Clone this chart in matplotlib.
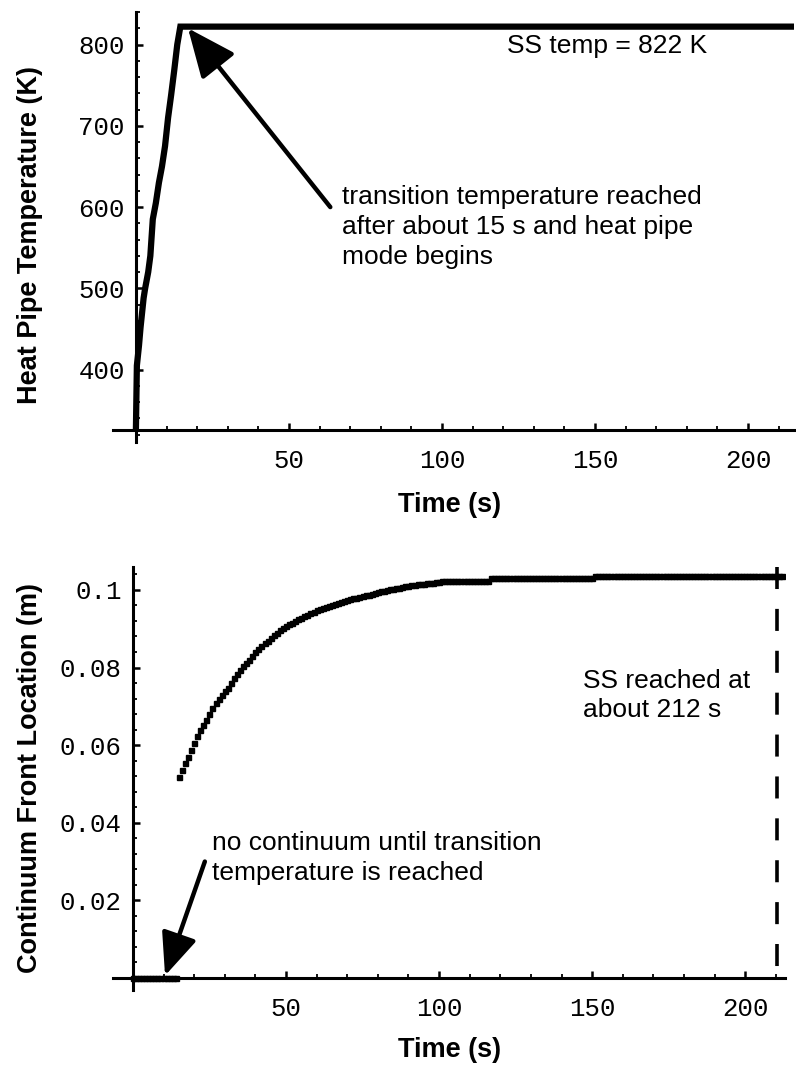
import matplotlib
matplotlib.use("Agg")
import matplotlib.pyplot as plt
from matplotlib.ticker import MultipleLocator, FixedLocator
import numpy as np

# ---------------- data ----------------
# top: heat pipe temperature (K) vs time (s)
temp_time = [0, 0.3, 1, 1.5, 2, 2.5, 3, 4, 4.7, 5.5, 6.5, 7.5, 8.5, 9.5, 10.5, 11.5, 12.5, 13.5, 14.5, 215]
temp_vals = [330, 405, 430, 452, 470, 488, 500, 520, 540, 585, 605, 630, 650, 675, 710, 738, 768, 800, 822, 822]
ss_temp = 822

# bottom: continuum front location (m) vs time (s)
front_time = list(range(0, 213))
front_vals = (
    [0.0] * 15 +
    [0.0518, 0.0536, 0.0553, 0.0570, 0.0588, 0.0606, 0.0624, 0.0638, 0.0652, 0.0665,
     0.0680, 0.0695, 0.0709, 0.0719, 0.0729, 0.0739, 0.0748, 0.0760, 0.0772, 0.0783,
     0.0794, 0.0803, 0.0812, 0.0820, 0.0830, 0.0839, 0.0847, 0.0855, 0.0862, 0.0869,
     0.0876, 0.0883, 0.0890, 0.0897, 0.0902, 0.0907, 0.0911, 0.0915, 0.0920, 0.0925,
     0.0928, 0.0932, 0.0936, 0.0940, 0.0944, 0.0947, 0.0950, 0.0953, 0.0956, 0.0959,
     0.0961, 0.0964, 0.0966, 0.0969, 0.0971, 0.0974, 0.0976, 0.0978, 0.0980, 0.0982,
     0.0984, 0.0986, 0.0988, 0.0990, 0.0992, 0.0994, 0.0996, 0.0998, 0.1000, 0.1002,
     0.1003, 0.1005, 0.1006, 0.1008, 0.1009, 0.1011, 0.1012, 0.1013, 0.1014, 0.1015,
     0.1016, 0.1017, 0.1018, 0.1019, 0.1020, 0.1021] +
    [0.1024] * 16 +
    [0.1031] * 34 +
    [0.1037] * 62
)
ss_time = 210.5

x_major = [50, 100, 150, 200]
top_y_major = [400, 500, 600, 700, 800]
bot_y_major = [0.02, 0.04, 0.06, 0.08, 0.1]
bot_y_labels = ["0.02", "0.04", "0.06", "0.08", "0.1"]

# ---------------- style ----------------
W, H = 796, 1073
fig = plt.figure(figsize=(W / 100, H / 100), dpi=100)
MONO = "Liberation Mono"
SANS = "Liberation Sans"
TICK_FS = 18.5
TEXT_FS = 19
LABEL_FS = 19.5
LS = 1.3


def px_rect(left, top, right, bottom):
    return [left / W, 1 - bottom / H, (right - left) / W, (bottom - top) / H]


def style_axes(ax, x_origin, y_origin):
    for s in ["top", "right"]:
        ax.spines[s].set_visible(False)
    ax.spines["left"].set_position(("data", x_origin))
    ax.spines["bottom"].set_position(("data", y_origin))
    for s in ["left", "bottom"]:
        ax.spines[s].set_linewidth(2.2)
    ax.tick_params(which="major", direction="in", length=5, width=1.8,
                   labelsize=TICK_FS)
    ax.tick_params(which="minor", direction="in", length=3, width=1.3)
    ax.tick_params(axis="x", which="major", pad=14)
    ax.tick_params(axis="y", which="major", pad=8)
    for lab in ax.get_xticklabels() + ax.get_yticklabels():
        lab.set_fontfamily(MONO)


# ---------------- top panel ----------------
ax1 = fig.add_axes(px_rect(113, 12, 794, 442))
ax1.set_xlim(-7.5, 215)
ax1.set_ylim(311, 840)
ax1.plot(temp_time, temp_vals, color="black", lw=4.5, solid_joinstyle="miter")
ax1.xaxis.set_major_locator(FixedLocator(x_major))
ax1.xaxis.set_minor_locator(MultipleLocator(10))
ax1.yaxis.set_major_locator(FixedLocator(top_y_major))
ax1.yaxis.set_minor_locator(MultipleLocator(20))
ax1.set_yticklabels([str(v) for v in top_y_major])
style_axes(ax1, 0, 326)

ax1.text(121.2, 790, f"SS temp = {ss_temp} K", fontsize=TEXT_FS,
         family=SANS, va="baseline", ha="left")
ax1.annotate("", xy=(17.0, 820), xytext=(63.5, 600),
             arrowprops=dict(arrowstyle="-|>,head_length=3.0,head_width=1.3",
                             mutation_scale=10, lw=3.2, color="black",
                             shrinkA=0, shrinkB=0))
ax1.text(67.3, 627, "transition temperature reached\nafter about 15 s and heat pipe\nmode begins",
         fontsize=TEXT_FS, family=SANS, va="top", ha="left", linespacing=LS)

# ---------------- bottom panel ----------------
ax2 = fig.add_axes(px_rect(113, 567, 785, 990))
ax2.set_xlim(-6.5, 213)
ax2.set_ylim(-0.0031, 0.1059)
ax2.plot(front_time, front_vals, linestyle="none", marker="s", markersize=3.6,
         color="black")
ax2.plot([ss_time, ss_time], [0.1059, 0], color="black", lw=2.6,
         dashes=(6.1, 5.5))
ax2.xaxis.set_major_locator(FixedLocator(x_major))
ax2.xaxis.set_minor_locator(MultipleLocator(10))
ax2.yaxis.set_major_locator(FixedLocator(bot_y_major))
ax2.yaxis.set_minor_locator(MultipleLocator(0.004))
ax2.set_yticklabels(bot_y_labels)
style_axes(ax2, 0, 0)

ax2.text(147, 0.0797, "SS reached at\nabout 212 s", fontsize=TEXT_FS,
         family=SANS, va="top", ha="left", linespacing=LS)
ax2.text(25.8, 0.0378, "no continuum until transition\ntemperature is reached",
         fontsize=TEXT_FS, family=SANS, va="top", ha="left", linespacing=LS)
ax2.annotate("", xy=(10.5, 0.0006), xytext=(23.5, 0.0300),
             arrowprops=dict(arrowstyle="-|>,head_length=2.6,head_width=1.1",
                             mutation_scale=10, lw=3.2, color="black",
                             shrinkA=0, shrinkB=0))

# axis labels
fig.text(450 / W, 1 - 505 / H, "Time (s)", fontsize=LABEL_FS, family=SANS,
         weight="bold", ha="center", va="center")
fig.text(450 / W, 1 - 1050 / H, "Time (s)", fontsize=LABEL_FS, family=SANS,
         weight="bold", ha="center", va="center")
fig.text(30 / W, 1 - 235 / H, "Heat Pipe Temperature (K)", fontsize=LABEL_FS,
         family=SANS, weight="bold", ha="center", va="center", rotation=90)
fig.text(30 / W, 1 - 778 / H, "Continuum Front Location (m)", fontsize=LABEL_FS,
         family=SANS, weight="bold", ha="center", va="center", rotation=90)

fig.savefig("out.png", dpi=100)
